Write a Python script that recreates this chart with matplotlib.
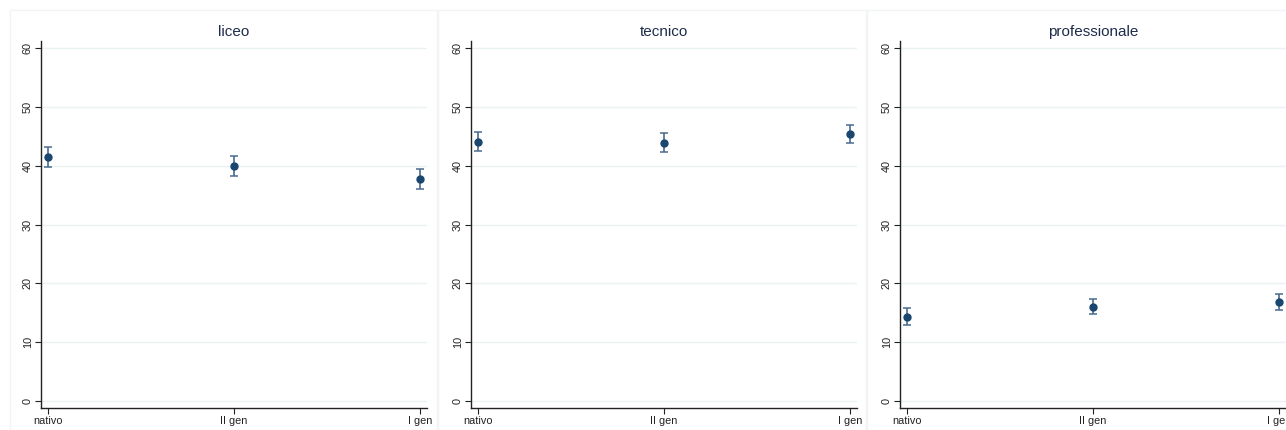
import matplotlib
matplotlib.use("Agg")
import matplotlib.pyplot as plt
from matplotlib.patches import Rectangle

plt.rcParams['font.family'] = ['Liberation Sans', 'DejaVu Sans']

# data
groups = ["liceo", "tecnico", "professionale"]
categories = ["nativo", "II gen", "I gen"]
means = {
    "liceo": [41.4, 40.0, 37.7],
    "tecnico": [44.1, 43.9, 45.4],
    "professionale": [14.3, 16.0, 16.8],
}
lower = {
    "liceo": [39.7, 38.2, 36.0],
    "tecnico": [42.5, 42.3, 43.8],
    "professionale": [12.9, 14.7, 15.5],
}
upper = {
    "liceo": [43.2, 41.7, 39.4],
    "tecnico": [45.8, 45.5, 47.0],
    "professionale": [15.8, 17.4, 18.2],
}
yticks = [0, 10, 20, 30, 40, 50, 60]

navy = "#1a476f"
grid_c = "#eaf2f3"
W, H = 1286, 430

fig = plt.figure(figsize=(W / 100, H / 100), dpi=100)

# outer boxes of each panel (pixels)
boxes = [(10, 437), (438, 866), (867, 1300)]
for x0, x1 in boxes:
    fig.patches.append(Rectangle((x0 / W, 0), (x1 - x0) / W, 1 - 10 / H,
                                 transform=fig.transFigure, fill=False,
                                 edgecolor="#f1f4f6", linewidth=1.0))

lefts = [41, 471, 900]
for g, lp in zip(groups, lefts):
    ax = fig.add_axes([lp / W, 1 - 408 / H, 386 / W, 367 / H])
    x = range(len(categories))
    m = means[g]
    err = [[mi - lo for mi, lo in zip(m, lower[g])],
           [hi - mi for mi, hi in zip(m, upper[g])]]
    ax.errorbar(x, m, yerr=err, fmt="none", ecolor="#4a6b8f",
                elinewidth=1.2, capsize=3, capthick=1.1, zorder=3)
    ax.plot(x, m, "o", color=navy, markersize=5, zorder=4)
    ax.set_xlim(-0.038, 2.038)
    ax.set_ylim(-1.2, 61.2)
    ax.set_yticks(yticks)
    ax.set_yticklabels([str(t) for t in yticks], rotation=90, va="center")
    ax.set_xticks(list(x))
    ax.set_xticklabels(categories)
    ax.tick_params(labelsize=7.8, length=4, width=0.8, colors="#222222", pad=2)
    ax.grid(axis="y", color=grid_c, linewidth=1.0)
    ax.set_axisbelow(True)
    for s in ["top", "right"]:
        ax.spines[s].set_visible(False)
    for s in ["left", "bottom"]:
        ax.spines[s].set_color("#222222")
        ax.spines[s].set_linewidth(1.0)
    ax.set_title(g, fontsize=11, color="#1e2d4a", pad=3.5)

fig.savefig("out.png", dpi=100)
